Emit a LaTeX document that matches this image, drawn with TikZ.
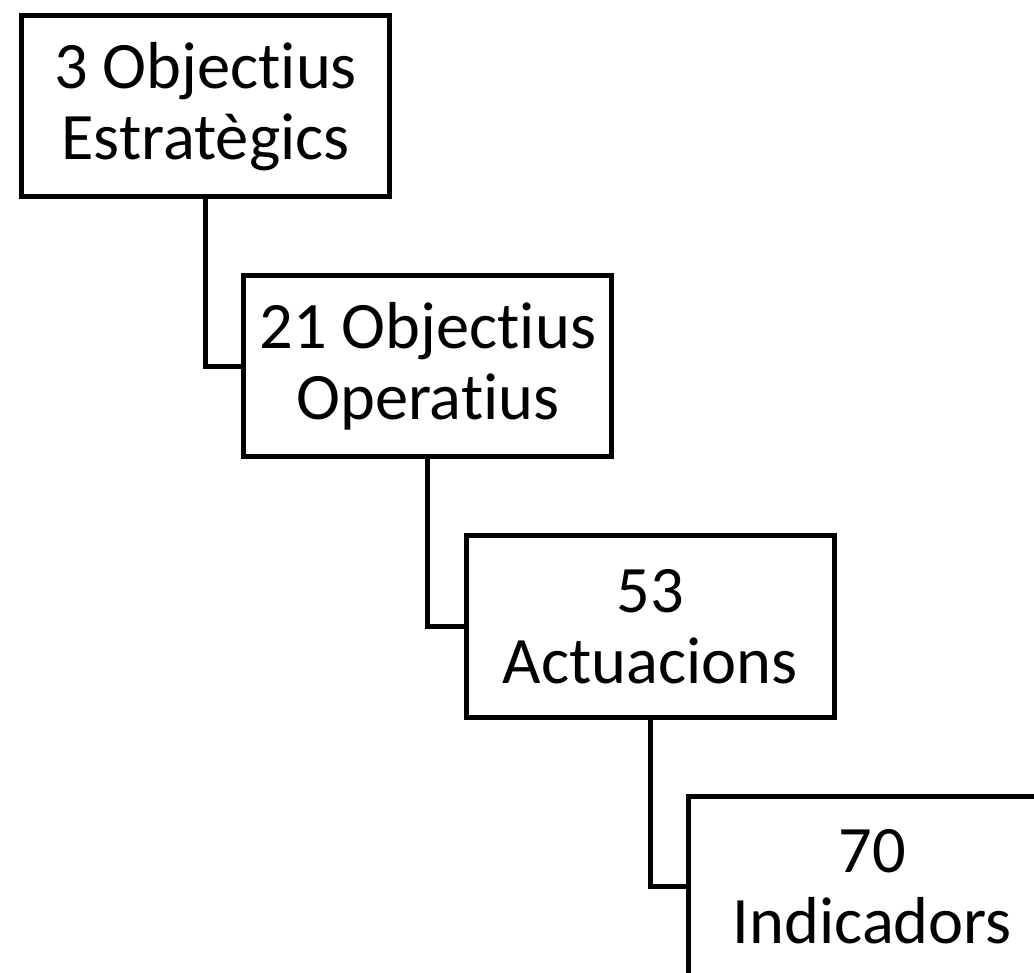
\documentclass[tikz,border=0pt]{standalone}
\usepackage{fontspec}
\setmainfont{Carlito}[Ligatures={NoCommon}]
\usepackage{tikz}
\newcommand{\stepx}{111.15pt}
\newcommand{\stepy}{130pt}

\begin{document}
\begin{tikzpicture}[box/.style={draw, rectangle, minimum width=184pt, minimum height=90.5pt, line width=2.5pt, inner sep=0pt, align=center, font=\fontsize{33.2}{35.5}\selectfont},
    link/.style={draw, line width=2.5pt}]
    \useasboundingbox (-102.75pt,53.25pt) rectangle (414.25pt,-433.25pt);
    \clip (-102.75pt,53.25pt) rectangle (414.25pt,-433.25pt);

    % Boxes
    \node[box] (box-1) at (0*\stepx,-0*\stepy) {3 Objectius\\Estratègics};
    \node[box] (box-2) at (1*\stepx,-1*\stepy) {21 Objectius\\Operatius};
    \node[box] (box-3) at (2*\stepx,-2*\stepy) {53\\Actuacions};
    \node[box] (box-4) at (3*\stepx,-3*\stepy) {70\\Indicadors};

    % Links
    \draw[link] (box-1.south) |- (box-2.west);
    \draw[link] (box-2.south) |- (box-3.west);
    \draw[link] (box-3.south) |- (box-4.west);

\end{tikzpicture}
\end{document}
